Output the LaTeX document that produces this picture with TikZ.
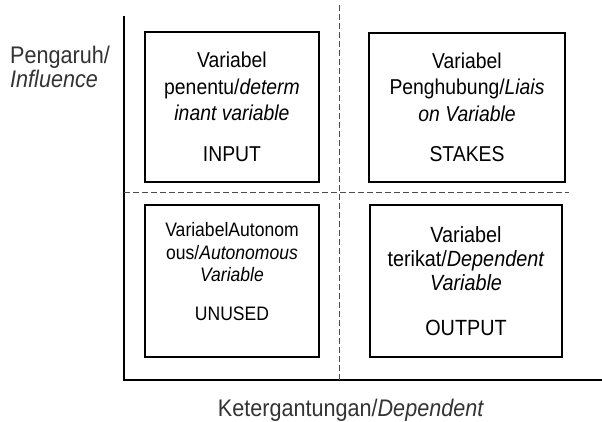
\documentclass[tikz,border=0pt]{standalone}
\usepackage{fontspec}
\setmainfont[FakeStretch=0.9]{Liberation Sans}
\usetikzlibrary{positioning}

\tikzset{
  caja/.style={draw, line width=1.3pt, align=center, inner sep=0pt},
  rejilla/.style={dashed, dash pattern=on 6pt off 3pt, line width=0.9pt, black!70},
  eje/.style={line width=1.5pt},
  etiqueta/.style={inner sep=0pt, align=left, font=\fontsize{24}{24}\selectfont, black!80}
}

\begin{document}
\begin{tikzpicture}[x=1pt, y=-1pt]

    % Fijar el marco de la figura
    \useasboundingbox (0,0) rectangle (602,421);

    % Definir las posiciones de los ejes y de las divisiones
    \def\ejex{124}
    \def\ejey{380}
    \def\divx{339}
    \def\divy{192}

    % Dibujar los ejes
    \coordinate (arriba) at (\ejex, 16);
    \coordinate (origen) at (\ejex, \ejey);
    \coordinate (derecha) at (602, \ejey);
    \draw[eje] (arriba) -- (origen) -- (derecha);

    % Dibujar las lineas discontinuas del cuadrante
    \coordinate (divarriba) at (\divx, 5);
    \coordinate (divabajo) at (\divx, \ejey);
    \coordinate (divizq) at (\ejex, \divy);
    \coordinate (divder) at (569, \divy);
    \draw[rejilla] (divarriba) -- (divabajo);
    \draw[rejilla] (divizq) -- (divder);

    % Dibujar las cuatro cajas
    \node[caja, minimum width=174pt, minimum height=150pt,
          font=\fontsize{21.5}{26.5}\selectfont] (input) at (232, 107)
        {Variabel\\penentu/\textit{determ}\\\textit{inant variable}\\[14pt]INPUT};
    \node[caja, minimum width=196pt, minimum height=149pt,
          font=\fontsize{21.5}{26.5}\selectfont] (stakes) at (467, 107.5)
        {Variabel\\Penghubung/\textit{Liais}\\\textit{on Variable}\\[14pt]STAKES};
    \node[caja, minimum width=174pt, minimum height=152pt,
          font=\fontsize{19.5}{22.5}\selectfont] (unused) at (232, 281)
        {VariabelAutonom\\ous/\textit{Autonomous}\\\textit{Variable}\\[16pt]UNUSED\\[-3pt]\mbox{}};
    \node[caja, minimum width=192pt, minimum height=152pt,
          font=\fontsize{22}{24}\selectfont] (output) at (466, 281)
        {Variabel\\terikat/\textit{Dependent}\\\textit{Variable}\\[21pt]OUTPUT};

    % Etiquetas de los ejes
    \node[etiqueta, anchor=north west] (pengaruh) at (10, 46)
        {Pengaruh/\\\textit{Influence}};
    \node[etiqueta, anchor=north] (ketergantungan) at (351, 399)
        {Ketergantungan/\textit{Dependent}};

\end{tikzpicture}
\end{document}
